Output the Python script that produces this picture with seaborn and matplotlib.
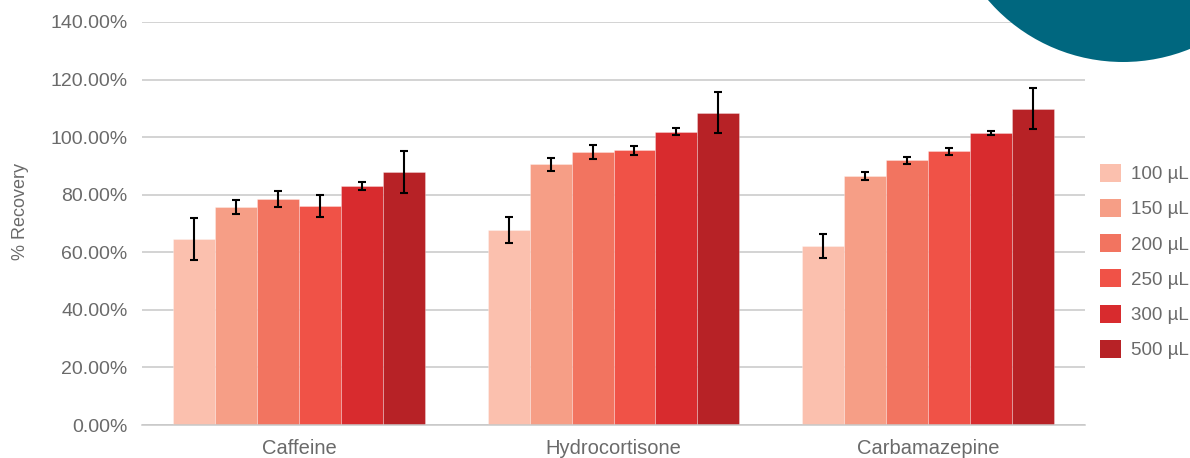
import numpy as np
import pandas as pd
import matplotlib
matplotlib.use("Agg")
import matplotlib.pyplot as plt
from matplotlib.patches import Ellipse, Patch
import seaborn as sns

# values (% recovery)
compounds = ["Caffeine", "Hydrocortisone", "Carbamazepine"]
volumes = ["100 µL", "150 µL", "200 µL", "250 µL", "300 µL", "500 µL"]

rec_100 = [64.7, 67.8, 62.2]
rec_150 = [75.6, 90.5, 86.5]
rec_200 = [78.5, 94.9, 91.9]
rec_250 = [76.1, 95.4, 95.1]
rec_300 = [83.1, 101.9, 101.5]
rec_500 = [87.9, 108.5, 109.9]

err_100 = [7.3, 4.6, 4.2]
err_150 = [2.4, 2.3, 1.4]
err_200 = [2.9, 2.4, 1.1]
err_250 = [3.8, 1.5, 1.2]
err_300 = [1.4, 1.2, 0.7]
err_500 = [7.2, 7.1, 7.2]

colors = ["#FBC0AE", "#F69E86", "#F27460", "#F05247", "#D82B2E", "#B72226"]
text_gray = "#6a6a6a"
grid_gray = "#c8c8c8"

recs = [rec_100, rec_150, rec_200, rec_250, rec_300, rec_500]
errs = [err_100, err_150, err_200, err_250, err_300, err_500]

df = pd.DataFrame({
    "compound": np.tile(compounds, len(volumes)),
    "volume": np.repeat(volumes, len(compounds)),
    "recovery": np.concatenate(recs),
})

sns.set_style("white")
plt.rcParams["font.family"] = ["Liberation Sans", "DejaVu Sans"]

fig = plt.figure(figsize=(11.9, 4.58), dpi=100)
ax = fig.add_axes([142 / 1190, 1 - 425 / 458, 943 / 1190, 403 / 458])

sns.barplot(data=df, x="compound", y="recovery", hue="volume",
            order=compounds, hue_order=volumes, palette=colors,
            saturation=1, errorbar=None, width=0.8, linewidth=0.6,
            edgecolor=(1, 1, 1, 0.35), ax=ax, legend=False)

# error bars on top of each hue container
for cont, err in zip(ax.containers, errs):
    xs = [b.get_x() + b.get_width() / 2 for b in cont]
    ys = [b.get_height() for b in cont]
    ax.errorbar(xs, ys, yerr=err, fmt="none", ecolor="black",
                elinewidth=1.5, capsize=2.6, capthick=1.5, zorder=5)

ax.set_ylim(0, 140)
ax.set_xlim(-0.5, 2.5)
ax.set_yticks(np.arange(0, 141, 20))
ax.set_yticklabels([f"{v:.2f}%" for v in np.arange(0, 141, 20)])
ax.yaxis.grid(True, color=grid_gray, linewidth=1.1)
ax.set_axisbelow(True)

for s in ["top", "right", "left"]:
    ax.spines[s].set_visible(False)
ax.spines["bottom"].set_color(grid_gray)
ax.spines["bottom"].set_linewidth(1.1)

ax.tick_params(axis="y", length=4, color=grid_gray, width=1.1, pad=6.5,
               labelsize=14, labelcolor=text_gray)
ax.tick_params(axis="x", which="major", length=0, pad=10,
               labelsize=14.5, labelcolor=text_gray)
ax.set_xticks([-0.5, 0.5, 1.5, 2.5], minor=True)
ax.tick_params(axis="x", which="minor", length=5, color=grid_gray, width=1.1)

ax.set_xlabel("")
ax.set_ylabel("% Recovery", fontsize=13, color=text_gray)
ax.yaxis.set_label_coords(-0.120, 0.531)

handles = [Patch(facecolor=c, edgecolor="none") for c in colors]
fig.legend(handles, volumes, loc="upper left",
           bbox_to_anchor=(1100 / 1190, 1 - 164 / 458),
           frameon=False, fontsize=13.5, labelcolor=text_gray,
           handlelength=1.1, handleheight=1.1, handletextpad=0.55,
           labelspacing=0.84, borderpad=0, borderaxespad=0)

# teal corner shape
fig.add_artist(Ellipse((1123 / 1190, 1 + 116 / 458), width=356 / 1190,
                       height=356 / 458, transform=fig.transFigure,
                       facecolor="#00677F", edgecolor="none", zorder=10))

fig.savefig("out.png", dpi=100)
